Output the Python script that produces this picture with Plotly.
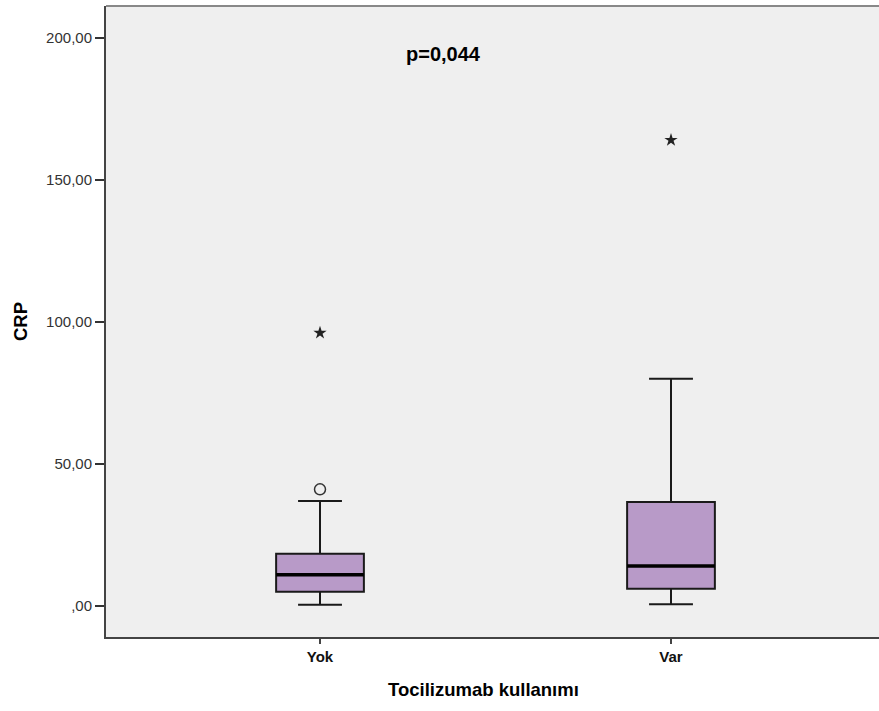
import plotly.graph_objects as go

categories = ["Yok", "Var"]
q1 = [4.9, 6.0]
median = [10.9, 14.0]
q3 = [18.3, 36.5]
lower_whisker = [0.35, 0.5]
upper_whisker = [36.9, 79.9]

mild_cat = ["Yok"]
mild_val = [41.0]
extreme_cat = ["Yok", "Var"]
extreme_val = [96.1, 164.0]

y_tickvals = [0, 50, 100, 150, 200]
y_ticktext = [",00", "50,00", "100,00", "150,00", "200,00"]

pos = {c: i for i, c in enumerate(categories)}
xs = [pos[c] for c in categories]
BOXW = 0.25

FONT = "Liberation Sans, Arial, sans-serif"

fig = go.Figure()
fig.add_trace(go.Box(
    x=xs, q1=q1, median=median, q3=q3,
    lowerfence=lower_whisker, upperfence=upper_whisker,
    width=BOXW, whiskerwidth=0.5, boxpoints=False,
    fillcolor="#B89AC8", line=dict(color="#1a1a1a", width=2),
    showlegend=False, hoverinfo="skip",
))
mx, my = [], []
for x, m in zip(xs, median):
    mx += [x - BOXW / 2, x + BOXW / 2, None]
    my += [m, m, None]
fig.add_trace(go.Scatter(x=mx, y=my, mode="lines",
                         line=dict(color="black", width=3.5),
                         showlegend=False, hoverinfo="skip"))
fig.add_trace(go.Scatter(x=[pos[c] for c in mild_cat], y=mild_val, mode="markers",
                         marker=dict(symbol="circle-open", size=11,
                                     line=dict(color="#333333", width=1.5), color="#333333"),
                         showlegend=False))
fig.add_trace(go.Scatter(x=[pos[c] for c in extreme_cat], y=extreme_val, mode="markers",
                         marker=dict(symbol="star", size=10, color="#222222"),
                         showlegend=False))

fig.add_annotation(x=0.352, y=194.2, xref="x", yref="y", text="<b>p=0,044</b>",
                   showarrow=False, font=dict(family=FONT, size=20, color="black"))

fig.add_annotation(x=0.489, y=-0.083, xref="paper", yref="paper",
                   text="<b>Tocilizumab kullanımı</b>", showarrow=False,
                   xanchor="center", yanchor="middle",
                   font=dict(family=FONT, size=18.5, color="black"))

fig.add_shape(type="line", xref="paper", yref="paper", x0=0, x1=1, y0=1, y1=1,
              line=dict(color="#888888", width=2))

fig.update_layout(
    width=879, height=711,
    margin=dict(l=106, r=0, t=6, b=74),
    paper_bgcolor="white", plot_bgcolor="#EFEFEF",
    font=dict(family=FONT, color="#222222"),
    xaxis=dict(range=[-0.6097, 1.5926], tickvals=xs,
               ticktext=["<b>%s</b>" % c for c in categories],
               tickfont=dict(size=15, color="#111111"),
               showgrid=False, zeroline=False, showline=True, linecolor="#444444", linewidth=2,
               ticks="outside", ticklen=5, tickwidth=1.5, tickcolor="#444444"),
    yaxis=dict(range=[-11.0, 211.2], tickvals=y_tickvals, ticktext=y_ticktext,
               tickfont=dict(size=15, color="#333333"),
               showgrid=False, zeroline=False, showline=True, linecolor="#444444", linewidth=2,
               ticks="outside", ticklen=9, tickwidth=2, tickcolor="#333333",
               title=dict(text="<b>CRP</b>", font=dict(size=18.5, color="black"), standoff=14)),
)

fig.write_html(
    "out.html",
    config={"displayModeBar": False},
    post_script="document.documentElement.style.margin='0';document.documentElement.style.overflow='hidden';"
                "document.body.style.margin='0';document.body.style.overflow='hidden';",
)
